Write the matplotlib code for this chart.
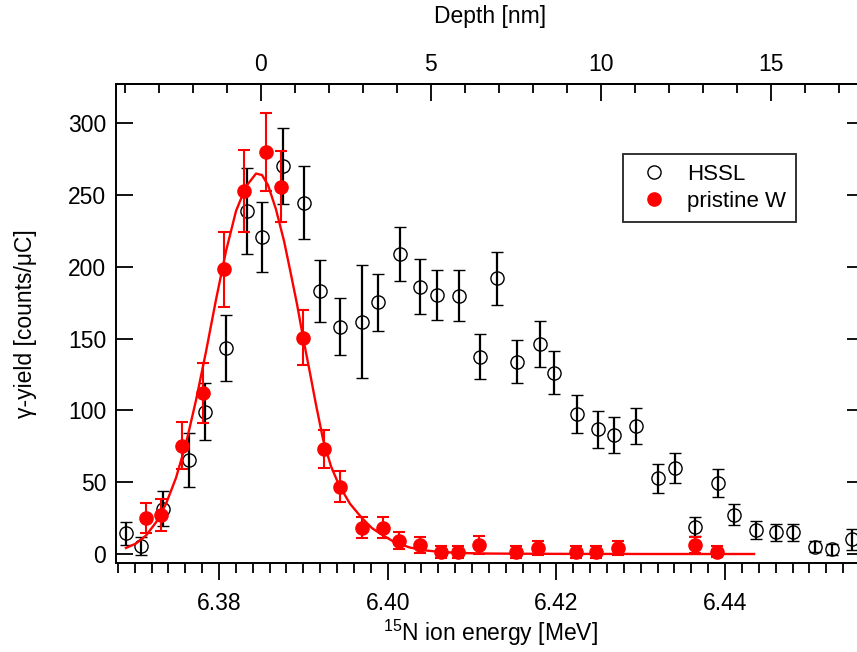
import matplotlib
matplotlib.use("Agg")
import matplotlib.pyplot as plt
from matplotlib.ticker import MultipleLocator
from matplotlib.lines import Line2D

plt.rcParams['font.family'] = ['Liberation Sans', 'DejaVu Sans']
plt.rcParams['mathtext.fontset'] = 'custom'
plt.rcParams['mathtext.rm'] = 'Liberation Sans'
plt.rcParams['mathtext.it'] = 'Liberation Sans:italic'
plt.rcParams['mathtext.bf'] = 'Liberation Sans:bold'

# ---------------- data ----------------
hssl_energy = [6.3690, 6.3708, 6.3734, 6.3764, 6.3783, 6.3808, 6.3833, 6.3851, 6.3876, 6.3901,
               6.3920, 6.3944, 6.3970, 6.3989, 6.4015, 6.4038, 6.4059, 6.4085, 6.4109, 6.4129,
               6.4153, 6.4180, 6.4197, 6.4224, 6.4249, 6.4268, 6.4294, 6.4320, 6.4341, 6.4364,
               6.4391, 6.4411, 6.4437, 6.4460, 6.4481, 6.4507, 6.4527, 6.4551]
hssl_yield = [14.4, 5.6, 31.6, 65.5, 99.1, 143.3, 239.1, 221.0, 270.2, 244.7,
              183.2, 158.3, 161.8, 175.3, 209.0, 186.2, 180.4, 179.9, 137.4, 192.0,
              134.0, 146.0, 126.3, 97.5, 86.8, 82.9, 89.2, 52.7, 59.7, 19.0,
              49.7, 27.2, 16.7, 15.1, 15.1, 5.1, 3.3, 10.2]
hssl_err = [7.8, 6.0, 12.0, 19.0, 19.7, 23.0, 30.0, 24.4, 26.5, 25.3,
            21.5, 20.0, 39.5, 20.0, 19.0, 19.0, 17.6, 17.7, 15.8, 18.6,
            15.0, 16.0, 15.0, 13.3, 12.7, 12.5, 12.4, 9.9, 10.5, 6.5,
            9.7, 7.3, 6.1, 5.7, 5.7, 4.0, 4.0, 7.5]

w_energy = [6.3713, 6.3731, 6.3756, 6.3781, 6.3806, 6.3830, 6.3856, 6.3874, 6.3900, 6.3924,
            6.3943, 6.3969, 6.3994, 6.4013, 6.4038, 6.4063, 6.4083, 6.4108, 6.4152, 6.4178,
            6.4223, 6.4247, 6.4273, 6.4364, 6.4390]
w_yield = [25.3, 27.2, 75.4, 111.9, 198.3, 252.8, 280.2, 255.8, 150.7, 72.9,
           46.9, 18.3, 18.3, 9.3, 6.3, 1.6, 1.6, 6.3, 1.6, 4.0,
           1.6, 1.6, 4.4, 6.3, 1.6]
w_err = [10.4, 11.0, 16.5, 20.9, 26.0, 28.4, 27.0, 24.6, 19.0, 13.3,
         11.0, 7.5, 7.5, 6.0, 5.3, 4.3, 4.3, 6.3, 4.3, 5.0,
         4.3, 4.3, 5.0, 5.8, 4.0]

fit_energy = [6.36897, 6.37016, 6.37135, 6.37253, 6.37372, 6.37490, 6.37609, 6.37727, 6.37846, 6.37964,
              6.38083, 6.38202, 6.38320, 6.38439, 6.38510, 6.38581, 6.38676, 6.38771, 6.38842, 6.38925,
              6.38996, 6.39079, 6.39150, 6.39233, 6.39328, 6.39423, 6.39553, 6.39695, 6.39814, 6.39944,
              6.40087, 6.40264, 6.40442, 6.40620, 6.40857, 6.41213, 6.41924, 6.43110, 6.44343]
fit_yield = [4.2, 7.3, 12.9, 22, 35, 53, 77, 107, 141, 177,
             211, 239, 256, 265, 264, 257, 240, 218, 198, 174,
             151, 126, 104, 80, 61, 48, 35, 25, 18, 13,
             8, 4.5, 2.5, 1.5, 0.7, 0.3, 0.1, 0, 0]

series_labels = ["HSSL", "pristine W"]
x_label = r"$^{15}$N ion energy [MeV]"
y_label = "γ-yield [counts/μC]"
top_label = "Depth [nm]"

# depth scale: depth 0 nm at E0, k MeV per nm
E0 = 6.38494
K = 0.0040308

# ---------------- figure ----------------
fig = plt.figure(figsize=(8.57, 6.52), dpi=100)
ax = fig.add_axes([116 / 857, (652 - 563) / 652, (864 - 116) / 857, (563 - 84) / 652])

FS = 16.5
RED = '#ff0000'

ax.errorbar(hssl_energy, hssl_yield, yerr=hssl_err, fmt='o', ms=9.5, mfc='none', mec='black',
            mew=1.0, ecolor='black', elinewidth=1.6, capsize=4, capthick=1.6, zorder=2)
ax.errorbar(w_energy, w_yield, yerr=w_err, fmt='o', ms=9.5, mfc=RED, mec=RED,
            ecolor=RED, elinewidth=1.5, capsize=4, capthick=1.5, zorder=3)
ax.plot(fit_energy, fit_yield, color=RED, lw=1.7, zorder=4)

ax.set_xlim(6.367789, 6.456467)
ax.set_ylim(-6.27, 327.4)

ax.xaxis.set_major_locator(MultipleLocator(0.02))
ax.xaxis.set_minor_locator(MultipleLocator(0.002))
ax.xaxis.set_major_formatter(plt.FuncFormatter(lambda v, p: f"{v:.2f}"))
ax.yaxis.set_major_locator(MultipleLocator(50))

ax.tick_params(axis='x', which='major', direction='out', length=12.2, width=1.3,
               labelsize=FS, pad=9, top=False)
ax.tick_params(axis='x', which='minor', direction='out', length=7, width=1.3, top=False)
ax.tick_params(axis='y', which='major', direction='in', length=12.2, width=1.3,
               labelsize=FS, pad=7, left=True, right=True)

for s in ax.spines.values():
    s.set_linewidth(1.4)

sec = ax.secondary_xaxis('top', functions=(lambda e: (e - E0) / K, lambda d: d * K + E0))
sec.xaxis.set_major_locator(MultipleLocator(5))
sec.xaxis.set_minor_locator(MultipleLocator(1))
sec.tick_params(axis='x', which='major', direction='in', length=12.2, width=1.3,
                labelsize=FS, pad=6)
sec.tick_params(axis='x', which='minor', direction='in', length=6.5, width=1.3)
sec.spines['top'].set_linewidth(1.4)
sec.set_xlabel(top_label, fontsize=FS, labelpad=21)

ax.set_xlabel(x_label, fontsize=FS, labelpad=2)
ax.set_ylabel(y_label, fontsize=FS, labelpad=22)

handles = [Line2D([], [], ls='none', marker='o', ms=9.5, mfc='none', mec='black', mew=1.0),
           Line2D([], [], ls='none', marker='o', ms=9.5, mfc=RED, mec=RED)]
leg = ax.legend(handles, series_labels, loc='upper left', bbox_to_anchor=(0.6774, 0.8539),
                borderaxespad=0, fontsize=16, frameon=True, fancybox=False,
                borderpad=0.45, handlelength=1.9, handletextpad=0.55, labelspacing=0.25)
leg.get_frame().set_edgecolor('black')
leg.get_frame().set_linewidth(1.4)

fig.savefig("out.png", dpi=100)
